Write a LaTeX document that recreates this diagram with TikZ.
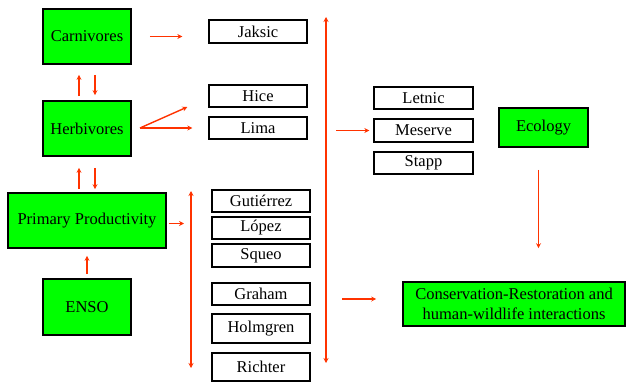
\documentclass[tikz,border=0pt]{standalone}
\usepackage{fontspec}
\setmainfont{Liberation Serif}
\usetikzlibrary{arrows.meta}
\definecolor{leaf}{RGB}{0,255,0}
\definecolor{flow}{RGB}{255,51,0}
\begin{document}
\begin{tikzpicture}[x=1pt, y=-1pt,
    topic/.style={draw, line width=1.6pt, fill=leaf, minimum width=88pt, minimum height=55pt, inner sep=1pt, font=\fontsize{16.5}{20}\selectfont},
    author/.style={draw, line width=1.3pt, fill=white, minimum width=98pt, minimum height=22pt, inner sep=0pt, font=\fontsize{16.5}{20}\selectfont},
    link/.style={draw=flow, line width=1.4pt, -{Stealth[length=5pt,width=5pt]}},
    span/.style={draw=flow, line width=1.4pt, {Stealth[length=5pt,width=5pt]}-{Stealth[length=5pt,width=5pt]}}]
    \useasboundingbox (0,0) rectangle (627,383);

    % Trophic levels
    \node[topic] (carn) at (87,36.5) {Carnivores};
    \node[topic] (herb) at (87,128.5) {Herbivores};
    \node[topic, minimum width=158pt] (prod) at (87,220.5) {Primary Productivity};
    \node[topic, minimum height=56pt] (enso) at (87,307) {ENSO};

    % Authors, first column
    \node[author, minimum height=23pt] (jaksic) at (258,31.5) {Jaksic};
    \node[author] (hice) at (258,96) {Hice};
    \node[author] (lima) at (258,128) {Lima};
    \node[author] (gutierrez) at (261,201) {Gutiérrez};
    \node[author] (lopez) at (261,228) {López};
    \node[author, minimum height=23pt] (squeo) at (261,255.5) {Squeo};
    \node[author] (graham) at (261,294) {Graham};
    \node[author, minimum height=29pt] (holmgren) at (261,328.5) {Holmgren};
    \node[author, minimum height=28pt] (richter) at (261,367) {Richter};

    % Authors, second column
    \node[author, minimum width=99pt] (letnic) at (423.5,98) {Letnic};
    \node[author, minimum width=99pt, minimum height=23pt] (meserve) at (423.5,130.5) {Meserve};
    \node[author, minimum width=99pt] (stapp) at (423.5,163) {Stapp};

    % Outcomes
    \node[topic, minimum width=89pt, minimum height=39pt] (eco) at (543.5,127.5) {Ecology};
    \node[topic, minimum width=222pt, minimum height=44pt, align=center] (cons) at (514,304)
        {Conservation-Restoration and\\human-wildlife interactions};

    % Span markers
    \coordinate (lowtop) at (191,191);
    \coordinate (lowbot) at (191,368);
    \coordinate (hightop) at (326,17);
    \coordinate (highbot) at (326,363);
    \coordinate (split) at (140,128);

    % Connection
    \draw[link, shorten <=18pt, shorten >=26pt] (carn.east) -- (carn.east -| jaksic.west);
    \draw[link, shorten <=4pt, shorten >=10pt] ([xshift=-8pt]herb.north) -- ([xshift=-8pt]carn.south);
    \draw[link, shorten <=10pt, shorten >=5pt] ([xshift=8pt]carn.south) -- ([xshift=8pt]herb.north);
    \draw[link] (split) -- ([shift={(-21,11)}]hice.west);
    \draw[link] (split) -- ([xshift=-16pt]lima.west);
    \draw[link, shorten <=3pt, shorten >=11pt] ([xshift=-8pt]prod.north) -- ([xshift=-8pt]herb.south);
    \draw[link, shorten <=11pt, shorten >=3pt] ([xshift=8pt]herb.south) -- ([xshift=8pt]prod.north);
    \draw[link, shorten <=4pt, shorten >=7pt] (enso.north) -- (prod.south);
    \draw[link, shorten <=2pt, shorten >=7pt] ([yshift=-3pt]prod.east) -- ([yshift=-3pt]prod.east -| lowtop);
    \draw[span] (lowtop) -- (lowbot);
    \draw[span] (hightop) -- (highbot);
    \draw[link, shorten <=10pt, shorten >=4pt] (meserve.west -| hightop) -- (meserve.west);
    \draw[link, shorten <=16pt, shorten >=26pt] ([yshift=5pt]cons.west -| highbot) -- ([yshift=5pt]cons.west);
    \draw[link, shorten <=22pt, shorten >=33pt] ([xshift=-5pt]eco.south) -- ([xshift=-5pt]eco.south |- cons.north);
  \end{tikzpicture}
\end{document}
